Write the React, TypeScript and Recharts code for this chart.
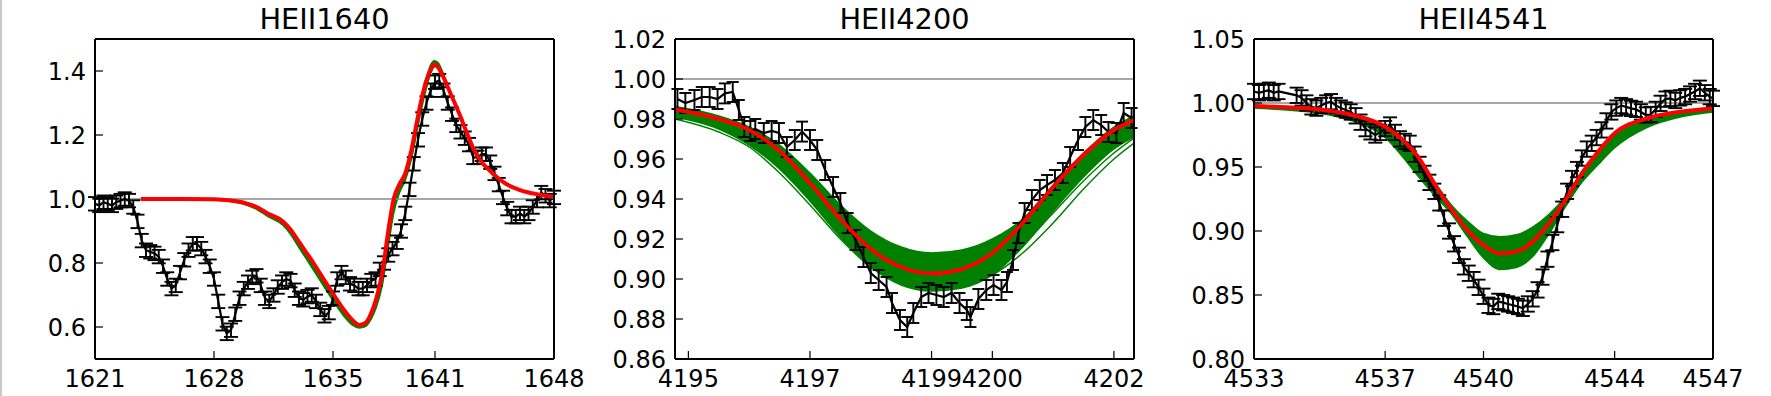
import { ComposedChart, Line, Area, XAxis, YAxis, ErrorBar, ReferenceLine } from 'recharts';

// ---- HeII 1640 ----
const heii1640Wave = [
  1621, 1621.25, 1621.5, 1621.75, 1622, 1622.25, 1622.5, 1622.75, 1623, 1623.25, 1623.5, 1623.75,
  1624, 1624.25, 1624.5, 1624.75, 1625, 1625.25, 1625.5, 1625.75, 1626, 1626.25, 1626.5, 1626.75,
  1627, 1627.25, 1627.5, 1627.75, 1628, 1628.25, 1628.5, 1628.75, 1629, 1629.25, 1629.5, 1629.75,
  1630, 1630.25, 1630.5, 1630.75, 1631, 1631.25, 1631.5, 1631.75, 1632, 1632.25, 1632.5, 1632.75,
  1633, 1633.25, 1633.5, 1633.75, 1634, 1634.25, 1634.5, 1634.75, 1635, 1635.25, 1635.5, 1635.75,
  1636, 1636.25, 1636.5, 1636.75, 1637, 1637.25, 1637.5, 1637.75, 1638, 1638.25, 1638.5, 1638.75,
  1639, 1639.25, 1639.5, 1639.75, 1640, 1640.25, 1640.5, 1640.75, 1641, 1641.25, 1641.5, 1641.75,
  1642, 1642.25, 1642.5, 1642.75, 1643, 1643.25, 1643.5, 1643.75, 1644, 1644.25, 1644.5, 1644.75,
  1645, 1645.25, 1645.5, 1645.75, 1646, 1646.25, 1646.5, 1646.75, 1647, 1647.25, 1647.5, 1647.75,
  1648,
];
const heii1640Flux = [
  0.985, 0.98, 0.99, 0.985, 0.98, 0.99, 0.995, 1.0, 0.995, 0.975, 0.93, 0.87,
  0.84, 0.835, 0.83, 0.82, 0.79, 0.75, 0.72, 0.73, 0.77, 0.81, 0.84, 0.86,
  0.86, 0.845, 0.82, 0.79, 0.75, 0.68, 0.61, 0.58, 0.59, 0.64, 0.69, 0.72,
  0.74, 0.755, 0.76, 0.73, 0.69, 0.68, 0.7, 0.725, 0.74, 0.75, 0.745, 0.715,
  0.69, 0.685, 0.695, 0.7, 0.68, 0.655, 0.635, 0.645, 0.69, 0.75, 0.77, 0.755,
  0.735, 0.73, 0.72, 0.72, 0.73, 0.745, 0.75, 0.78, 0.8, 0.825, 0.845, 0.865,
  0.9, 0.955, 1.03, 1.11, 1.185, 1.25, 1.3, 1.34, 1.365, 1.37, 1.34, 1.3,
  1.265, 1.23, 1.21, 1.19, 1.17, 1.13, 1.13, 1.14, 1.14, 1.115, 1.08, 1.045,
  1.005, 0.97, 0.945, 0.945, 0.955, 0.945, 0.955, 0.975, 0.995, 1.02, 1.01, 0.995,
  1.005,
];
const heii1640FitWave = [
  1623.7, 1626, 1628, 1629, 1629.8, 1630.5, 1631.15, 1632.05, 1632.5, 1632.95, 1633.4, 1633.85,
  1634.3, 1634.75, 1635.2, 1635.65, 1636.1, 1636.55, 1636.9, 1637.22, 1637.55, 1637.9, 1638.25, 1638.57,
  1638.9, 1639.25, 1639.6, 1639.92, 1640.2, 1640.49, 1640.75, 1640.98, 1641.2, 1641.5, 1641.95, 1642.4,
  1642.85, 1643.3, 1643.75, 1644.2, 1644.65, 1645.1, 1645.55, 1646, 1646.45, 1646.9, 1647.45, 1648,
];
const heii1640Fit = [
  1.0, 1.0, 0.999, 0.995, 0.988, 0.975, 0.955, 0.93, 0.905, 0.87, 0.835, 0.8,
  0.762, 0.725, 0.688, 0.653, 0.624, 0.606, 0.612, 0.64, 0.69, 0.77, 0.9, 1.0,
  1.045, 1.08, 1.15, 1.237, 1.31, 1.37, 1.405, 1.42, 1.41, 1.38, 1.325, 1.27,
  1.21, 1.153, 1.115, 1.09, 1.068, 1.05, 1.037, 1.028, 1.021, 1.016, 1.011, 1.006,
];
const heii1640Lo = [
  0.998, 0.998, 0.997, 0.992, 0.983, 0.968, 0.946, 0.918, 0.89, 0.852, 0.815, 0.778,
  0.74, 0.703, 0.666, 0.633, 0.607, 0.597, 0.601, 0.622, 0.662, 0.73, 0.85, 0.955,
  1.018, 1.058, 1.122, 1.205, 1.28, 1.345, 1.392, 1.413, 1.408, 1.378, 1.323, 1.266,
  1.206, 1.15, 1.112, 1.087, 1.066, 1.048, 1.035, 1.026, 1.019, 1.014, 1.009, 1.004,
];
const heii1640Hi = [
  1.002, 1.002, 1.001, 0.997, 0.99, 0.978, 0.958, 0.933, 0.908, 0.873, 0.838, 0.803,
  0.765, 0.728, 0.691, 0.656, 0.627, 0.61, 0.617, 0.645, 0.694, 0.774, 0.904, 1.004,
  1.049, 1.085, 1.156, 1.245, 1.32, 1.378, 1.42, 1.432, 1.425, 1.39, 1.33, 1.273,
  1.213, 1.156, 1.117, 1.092, 1.07, 1.052, 1.039, 1.03, 1.023, 1.018, 1.013, 1.008,
];

// ---- HeII 4200 ----
const heii4200Wave = [
  4194.82, 4194.95, 4195.1, 4195.22, 4195.35, 4195.48, 4195.6, 4195.73, 4195.83, 4195.92, 4196.02, 4196.1,
  4196.24, 4196.37, 4196.49, 4196.62, 4196.75, 4196.87, 4197, 4197.12, 4197.25, 4197.38, 4197.5, 4197.62,
  4197.75, 4197.88, 4198, 4198.13, 4198.26, 4198.35, 4198.48, 4198.6, 4198.7, 4198.83, 4198.95, 4199.08,
  4199.2, 4199.33, 4199.46, 4199.58, 4199.64, 4199.77, 4199.9, 4200.02, 4200.15, 4200.24, 4200.34, 4200.43,
  4200.53, 4200.65, 4200.78, 4200.9, 4201.03, 4201.16, 4201.28, 4201.41, 4201.53, 4201.66, 4201.79, 4201.91,
  4202.04, 4202.16, 4202.29,
];
const heii4200Flux = [
  0.99, 0.988, 0.9895, 0.991, 0.991, 0.99, 0.9928, 0.9935, 0.9845, 0.976, 0.974, 0.975,
  0.973, 0.974, 0.973, 0.966, 0.9695, 0.9737, 0.9695, 0.9645, 0.9545, 0.946, 0.938, 0.928,
  0.9195, 0.911, 0.903, 0.8995, 0.896, 0.888, 0.8795, 0.876, 0.883, 0.891, 0.893, 0.892,
  0.891, 0.893, 0.888, 0.8845, 0.881, 0.89, 0.8945, 0.897, 0.8945, 0.8985, 0.9095, 0.923,
  0.933, 0.9395, 0.9445, 0.947, 0.9495, 0.953, 0.961, 0.9695, 0.976, 0.9795, 0.977, 0.9735,
  0.973, 0.983, 0.9805,
];
const heii4200FitWave = [
  4194.78, 4195.5, 4196, 4196.5, 4197, 4197.5, 4198, 4198.5, 4199, 4199.5, 4200, 4200.5,
  4201, 4201.5, 4202, 4202.33,
];
const heii4200Fit = [
  0.9848, 0.98, 0.9745, 0.964, 0.948, 0.93, 0.915, 0.906, 0.9027, 0.905, 0.913, 0.928,
  0.946, 0.962, 0.9745, 0.9795,
];
const heii4200Lo = [
  0.981, 0.975, 0.967, 0.955, 0.939, 0.921, 0.906, 0.897, 0.894, 0.8955, 0.902, 0.916,
  0.934, 0.951, 0.965, 0.971,
];
const heii4200Hi = [
  0.9862, 0.9815, 0.976, 0.967, 0.953, 0.937, 0.924, 0.916, 0.913, 0.9145, 0.92, 0.93,
  0.947, 0.963, 0.976, 0.9815,
];
const heii4200ModelA = [
  0.98, 0.9735, 0.966, 0.953, 0.937, 0.92, 0.906, 0.898, 0.8955, 0.8965, 0.902, 0.913,
  0.928, 0.945, 0.96, 0.968,
];
const heii4200ModelB = [
  0.9825, 0.9755, 0.9675, 0.9555, 0.9395, 0.922, 0.907, 0.8985, 0.8955, 0.8975, 0.9045, 0.917,
  0.933, 0.949, 0.963, 0.9705,
];

// ---- HeII 4541 ----
const heii4541Wave = [
  4533, 4533.15, 4533.3, 4533.45, 4533.6, 4533.75, 4534.3, 4534.45, 4534.6, 4534.75, 4534.9, 4535.05,
  4535.2, 4535.35, 4535.5, 4535.65, 4535.8, 4535.95, 4536.1, 4536.25, 4536.4, 4536.55, 4536.7, 4536.85,
  4537, 4537.15, 4537.3, 4537.45, 4537.6, 4537.75, 4537.9, 4538.05, 4538.2, 4538.35, 4538.5, 4538.65,
  4538.8, 4538.95, 4539.1, 4539.25, 4539.4, 4539.55, 4539.7, 4539.85, 4540, 4540.15, 4540.3, 4540.45,
  4540.6, 4540.75, 4540.9, 4541.05, 4541.2, 4541.35, 4541.5, 4541.65, 4541.8, 4541.95, 4542.1, 4542.25,
  4542.4, 4542.55, 4542.7, 4542.85, 4543, 4543.15, 4543.3, 4543.45, 4543.6, 4543.75, 4543.9, 4544.05,
  4544.2, 4544.35, 4544.5, 4544.65, 4544.8, 4544.95, 4545.1, 4545.25, 4545.4, 4545.55, 4545.7, 4545.85,
  4546, 4546.15, 4546.3, 4546.45, 4546.6, 4546.75, 4546.9, 4547,
];
const heii4541Flux = [
  1.009, 1.008, 1.009, 1.01, 1.008, 1.009, 1.006, 1.004, 1.0, 0.997, 0.996, 0.998,
  1.0, 1.001, 0.998, 0.996, 0.9945, 0.993, 0.99, 0.985, 0.98, 0.9775, 0.975, 0.977,
  0.98, 0.9828, 0.977, 0.972, 0.97, 0.9685, 0.96, 0.952, 0.945, 0.938, 0.931, 0.922,
  0.91, 0.9, 0.89, 0.881, 0.872, 0.867, 0.862, 0.856, 0.849, 0.842, 0.841, 0.845,
  0.844, 0.843, 0.842, 0.841, 0.8396, 0.843, 0.847, 0.854, 0.864, 0.878, 0.891, 0.905,
  0.917, 0.931, 0.941, 0.948, 0.957, 0.964, 0.9685, 0.973, 0.979, 0.986, 0.993, 0.996,
  0.998, 0.997, 0.9958, 0.995, 0.993, 0.9906, 0.991, 0.995, 0.9997, 1.003, 1.0036, 1.002,
  1.004, 1.005, 1.007, 1.009, 1.0115, 1.008, 1.005, 1.0036,
];
const heii4541FitWave = [
  4533, 4534, 4535, 4536, 4537, 4537.5, 4538, 4538.5, 4539, 4539.5, 4540, 4540.5,
  4541, 4541.5, 4542, 4542.5, 4543, 4543.5, 4544, 4545, 4546, 4547,
];
const heii4541Fit = [
  0.9977, 0.9966, 0.995, 0.9906, 0.9815, 0.972, 0.958, 0.9372, 0.9177, 0.9008, 0.889, 0.8825,
  0.8839, 0.8917, 0.906, 0.9242, 0.945, 0.962, 0.9763, 0.988, 0.9932, 0.9958,
];
const heii4541Lo = [
  0.996, 0.9945, 0.992, 0.986, 0.973, 0.959, 0.943, 0.928, 0.914, 0.896, 0.879, 0.87,
  0.8715, 0.88, 0.898, 0.919, 0.938, 0.952, 0.965, 0.981, 0.989, 0.993,
];
const heii4541Hi = [
  0.998, 0.997, 0.9955, 0.991, 0.982, 0.9725, 0.9585, 0.9385, 0.921, 0.908, 0.898, 0.8955,
  0.897, 0.903, 0.913, 0.927, 0.946, 0.963, 0.977, 0.988, 0.9935, 0.996,
];

const FONT = 'DejaVu Sans';
const GREEN = '#008000';
const PLOT_W = 459;

interface PanelProps {
  title: string;
  plotLeft: number;
  xDomain: [number, number];
  xTicks: number[];
  yDomain: [number, number];
  yTicks: number[];
  yDigits: number;
  wave: number[];
  flux: number[];
  err: number;
  cap: number;
  fitWave: number[];
  fit: number[];
  lo: number[];
  hi: number[];
  models?: number[][];
}

function Panel(p: PanelProps) {
  const obs = p.wave.map((w, i) => ({ w, f: p.flux[i], e: p.err }));
  const model = p.fitWave.map((w, i) => ({ w, fit: p.fit[i], band: [p.lo[i], p.hi[i]] }));
  const extra = (p.models || []).map(m => p.fitWave.map((w, i) => ({ w, m: m[i] })));
  const width = 80 + PLOT_W + 30;
  const axisLine = { stroke: '#000', strokeWidth: 2 };
  const tickLine = { stroke: '#000', strokeWidth: 1.2 };
  const tickStyle = { fill: '#000', fontSize: 24, fontFamily: FONT };
  return (
    <div style={{ position: 'absolute', left: p.plotLeft - 80, top: 0, width, height: 396 }}>
      <ComposedChart width={width} height={396} data={model} margin={{ top: 38, right: 29, bottom: 0, left: 0 }}>
        <XAxis xAxisId="b" type="number" dataKey="w" domain={p.xDomain} ticks={p.xTicks} interval={0}
          allowDataOverflow height={37} tickSize={-8} tickMargin={19} axisLine={axisLine} tickLine={tickLine} tick={tickStyle} />
        <XAxis xAxisId="t" orientation="top" type="number" dataKey="w" domain={p.xDomain} ticks={p.xTicks} interval={0}
          allowDataOverflow height={1} tickSize={-8} axisLine={axisLine} tickLine={tickLine} tick={false} />
        <YAxis yAxisId="l" type="number" domain={p.yDomain} ticks={p.yTicks} interval={0} allowDataOverflow width={80}
          tickSize={-8} tickMargin={17} axisLine={axisLine} tickLine={tickLine} tick={tickStyle}
          tickFormatter={(v: number) => v.toFixed(p.yDigits)} />
        <YAxis yAxisId="r" orientation="right" type="number" domain={p.yDomain} ticks={p.yTicks} interval={0}
          allowDataOverflow width={1} tickSize={-8} axisLine={axisLine} tickLine={tickLine} tick={false} />
        <ReferenceLine xAxisId="b" yAxisId="l" y={1} stroke="#8a8a8a" strokeWidth={1.5} />
        <Area xAxisId="b" yAxisId="l" dataKey="band" type="monotone" stroke={GREEN} strokeWidth={1.5}
          fill={GREEN} fillOpacity={1} isAnimationActive={false} />
        {extra.map((d, k) => (
          <Line key={k} xAxisId="b" yAxisId="l" data={d} dataKey="m" type="monotone" stroke={GREEN}
            strokeWidth={1.5} dot={false} isAnimationActive={false} />
        ))}
        <Line xAxisId="b" yAxisId="l" data={obs} dataKey="f" type="linear" stroke="#000" strokeWidth={2.2}
          dot={false} isAnimationActive={false}>
          <ErrorBar dataKey="e" direction="y" width={p.cap} stroke="#000" strokeWidth={1.9} />
        </Line>
        <Line xAxisId="b" yAxisId="l" dataKey="fit" type="monotone" stroke="#ff0000" strokeWidth={4}
          dot={false} isAnimationActive={false} />
      </ComposedChart>
      <svg width={width} height={40} style={{ position: 'absolute', left: 0, top: 0 }}>
        <text x={80 + PLOT_W / 2} y={29} textAnchor="middle" fontSize={28.8} fontFamily={FONT} fill="#000">
          {p.title}
        </text>
      </svg>
    </div>
  );
}

export default function App() {
  return (
    <div style={{ position: 'absolute', left: 0, top: 0, width: 1771, height: 396, background: '#fff', overflow: 'hidden' }}>
      <div style={{ position: 'absolute', left: 0, top: 0, width: 2, height: 396, background: '#c8c8c8' }} />
      <Panel title="HEII1640" plotLeft={95} xDomain={[1621, 1648]} xTicks={[1621, 1628, 1635, 1641, 1648]}
        yDomain={[0.5, 1.5]} yTicks={[0.6, 0.8, 1.0, 1.2, 1.4]} yDigits={1}
        wave={heii1640Wave} flux={heii1640Flux} err={0.021} cap={7}
        fitWave={heii1640FitWave} fit={heii1640Fit} lo={heii1640Lo} hi={heii1640Hi} />
      <Panel title="HEII4200" plotLeft={675} xDomain={[4194.78, 4202.33]} xTicks={[4195, 4197, 4199, 4200, 4202]}
        yDomain={[0.86, 1.02]} yTicks={[0.86, 0.88, 0.9, 0.92, 0.94, 0.96, 0.98, 1.0, 1.02]} yDigits={2}
        wave={heii4200Wave} flux={heii4200Flux} err={0.005} cap={6}
        fitWave={heii4200FitWave} fit={heii4200Fit} lo={heii4200Lo} hi={heii4200Hi}
        models={[heii4200ModelA, heii4200ModelB]} />
      <Panel title="HEII4541" plotLeft={1254} xDomain={[4533, 4547]} xTicks={[4533, 4537, 4540, 4544, 4547]}
        yDomain={[0.8, 1.05]} yTicks={[0.8, 0.85, 0.9, 0.95, 1.0, 1.05]} yDigits={2}
        wave={heii4541Wave} flux={heii4541Flux} err={0.006} cap={7}
        fitWave={heii4541FitWave} fit={heii4541Fit} lo={heii4541Lo} hi={heii4541Hi} />
    </div>
  );
}
